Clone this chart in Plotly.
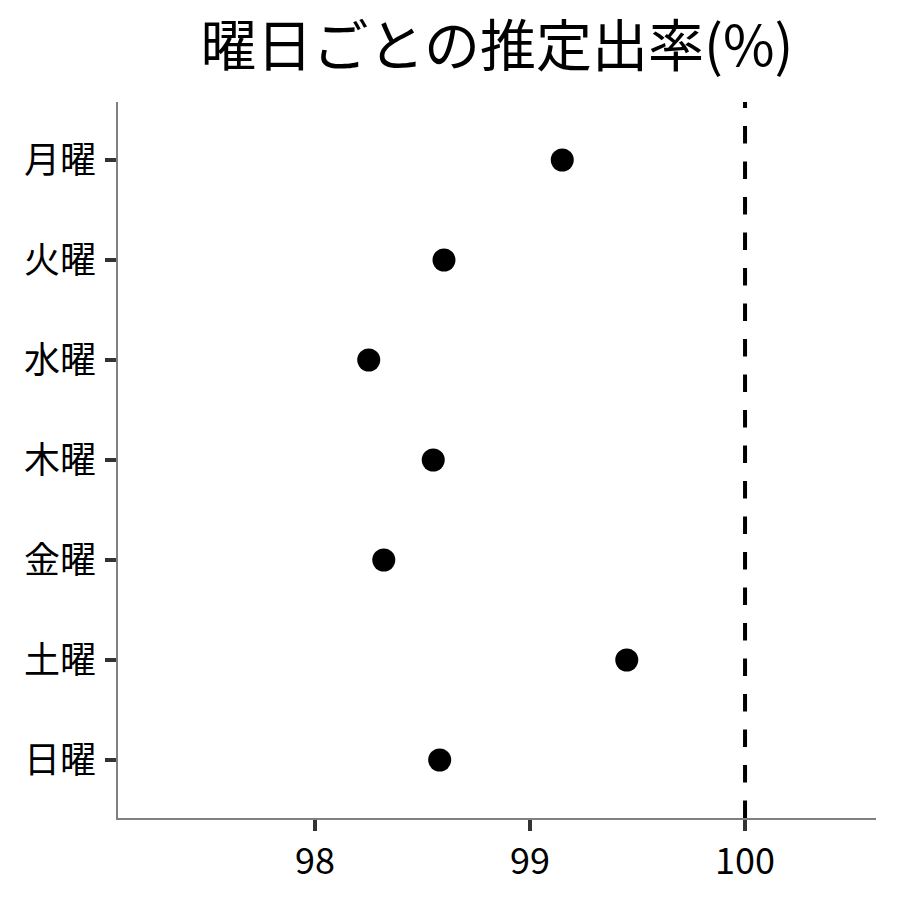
import plotly.graph_objects as go

# data
days = ["月曜", "火曜", "水曜", "木曜", "金曜", "土曜", "日曜"]
rates = [99.15, 98.60, 98.25, 98.55, 98.32, 99.45, 98.58]
x_ticks = [98, 99, 100]
ref_value = 100

FONT = "Noto Sans CJK JP"

fig = go.Figure()

fig.add_trace(go.Scatter(
    x=rates,
    y=days,
    mode="markers",
    marker=dict(color="black", size=23),
    showlegend=False,
))

# reference line (drawn bottom -> top like ggplot's vline)
fig.add_shape(
    type="line",
    xref="x", yref="paper",
    x0=ref_value, x1=ref_value, y0=0, y1=1,
    line=dict(color="black", width=4, dash="17.5px,18px"),
)

# page body adds an 8px offset, margins are compensated for it
fig.update_layout(
    width=900, height=900,
    paper_bgcolor="white",
    plot_bgcolor="white",
    font=dict(family=FONT, color="black"),
    margin=dict(l=110, r=32, t=94, b=90),
    title=dict(
        text="曜日ごとの推定出率(%)",
        font=dict(family=FONT, size=56, color="black"),
        x=0.5, xref="paper", xanchor="center",
        y=0.957, yref="container", yanchor="middle",
    ),
)

fig.update_xaxes(
    range=[97.084, 100.609],
    tickvals=x_ticks,
    ticktext=[str(v) for v in x_ticks],
    showgrid=False, zeroline=False,
    showline=True, linecolor="#808080", linewidth=1.7,
    ticks="outside", ticklen=11, tickwidth=4, tickcolor="#333333",
    tickfont=dict(family=FONT, size=36, color="black"),
)

fig.update_yaxes(
    type="category",
    categoryorder="array", categoryarray=days,
    autorange=False,
    range=[6.58, -0.58],
    showgrid=False, zeroline=False,
    showline=True, linecolor="#808080", linewidth=1.7,
    ticks="outside", ticklen=11, tickwidth=4, tickcolor="#333333",
    ticklabelstandoff=2,
    tickfont=dict(family=FONT, size=36, color="black"),
)

fig.write_html("out.html")
